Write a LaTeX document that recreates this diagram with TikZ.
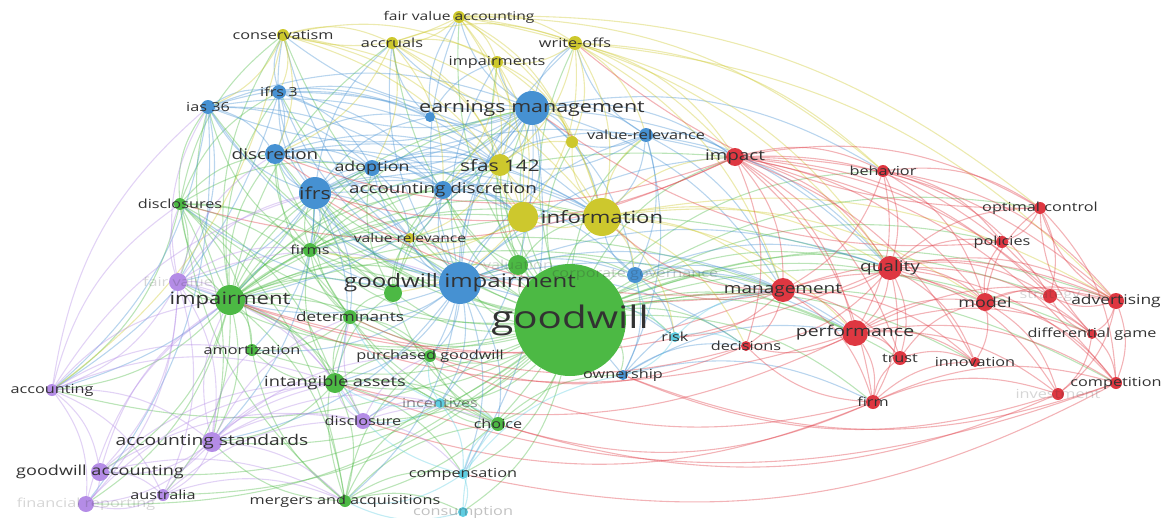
\documentclass[tikz,border=0pt]{standalone}
\usepackage{fontspec}
\setmainfont{Open Sans}
\usepackage{graphicx}
\usetikzlibrary{backgrounds}

\definecolor{cg}{RGB}{76,185,68}
\definecolor{cb}{RGB}{70,145,210}
\definecolor{cy}{RGB}{205,200,45}
\definecolor{cr}{RGB}{222,55,65}
\definecolor{cp}{RGB}{180,140,230}
\definecolor{cc}{RGB}{95,205,225}
\definecolor{lbltext}{RGB}{50,50,50}

\newcommand\widelbl[1]{\scalebox{1.3}[1]{#1}}

\tikzset{
  kw/.style={circle,inner sep=0pt,draw=none},
  link/.style={line width=1.1pt,draw opacity=0.38,bend left=20},
  ge/.style={link,draw=cg},
  be/.style={link,draw=cb},
  ye/.style={link,draw=cy},
  re/.style={link,draw=cr},
  pe/.style={link,draw=cp},
  ce/.style={link,draw=cc},
  lbl/.style={inner sep=0pt,text=lbltext}
}

\begin{document}
\begin{tikzpicture}[x=1pt,y=-1pt]
\useasboundingbox (0,0) rectangle (1169,517);

% keywords: name/x/y/radius
\foreach \n/\x/\y/\r in {goodwill/570/320/56, impairment/230/300/15, disclosures/180/204/6,
  firms/310/250/7, valuation/518/265/10, gnode/393/293/9, determinants/350/317/7,
  amortization/252/350/6, purchased/430/356/6, intangible/335/383/10, choice/498/424/7,
  mergers/345/501/6}
  \node[kw,fill=cg,minimum size=2*\r pt] (\n) at (\x,\y) {};
\foreach \n/\x/\y/\r in {earnings/532/108/17, sblue/430/117/5, valrelb/646/135/7,
  ias36/208/107/7, ifrs3/279/92/7, discretion/275/154/10, adoption/372/168/8,
  ifrs/315/193/16, accdisc/443/190/9, gwimp/460/283/21, corpgov/635/275/8,
  ownership/623/375/5}
  \node[kw,fill=cb,minimum size=2*\r pt] (\n) at (\x,\y) {};
\foreach \n/\x/\y/\r in {risk/675/337/5, incentives/440/403/5, compensation/463/474/5,
  consumption/463/512/5}
  \node[kw,fill=cc,minimum size=2*\r pt] (\n) at (\x,\y) {};
\foreach \n/\x/\y/\r in {fva/459/17/6, conservatism/283/35/6, accruals/392/43/6,
  writeoffs/575/43/7, impairments/497/62/6, sfas/500/165/11, syellow/572/142/6,
  information/602/217/19, mini/523/217/15, valrel/410/238/5}
  \node[kw,fill=cy,minimum size=2*\r pt] (\n) at (\x,\y) {};
\foreach \n/\x/\y/\r in {fairvalue/178/282/9, accounting/52/390/6, accstd/212/442/10,
  gwacc/100/472/9, australia/163/495/6, finrep/86/504/8, disclosure/363/421/8}
  \node[kw,fill=cp,minimum size=2*\r pt] (\n) at (\x,\y) {};
\foreach \n/\x/\y/\r in {impact/735/157/9, behavior/883/171/6, optimal/1040/208/6,
  policies/1002/242/6, quality/890/268/12, management/783/290/12, model/985/302/9,
  strategy/1050/296/7, advertising/1116/301/8, performance/855/333/13,
  decisions/746/346/5, trust/900/358/7, innovation/975/362/5, diffgame/1092/334/5,
  competition/1116/383/6, investment/1058/394/6, firm/873/402/7}
  \node[kw,fill=cr,minimum size=2*\r pt] (\n) at (\x,\y) {};

% links
\begin{scope}[on background layer]
\foreach \a/\bs in {
  goodwill/{impairment,disclosures,firms,determinants,amortization,purchased,intangible,choice,mergers,valuation,gnode,gwimp,ifrs,discretion,information,sfas,earnings,management,quality,performance,impact,model,advertising,decisions,ownership,risk,corpgov,accstd,disclosure,incentives,compensation,accounting,fairvalue,ias36,ifrs3,conservatism,accruals,fva,writeoffs,impairments,behavior,trust,firm,innovation,diffgame,competition,strategy,optimal,policies,valrel,valrelb,adoption,accdisc,gwacc,australia,finrep,consumption,mini,syellow},
  impairment/{disclosures,firms,determinants,amortization,intangible,fairvalue,accounting,accstd,gwacc,ias36,ifrs3,discretion,ifrs,adoption,gwimp,information,earnings,conservatism,accruals,purchased,choice,mergers,disclosure,management,quality,performance,impact,sfas,valrel,mini,finrep,australia,accdisc,gnode},
  disclosures/{firms,ias36,discretion,determinants,amortization,accounting,intangible,conservatism,ifrs3,adoption,gnode,mergers,fairvalue,accstd},
  intangible/{amortization,determinants,purchased,choice,mergers,firms,gnode,compensation,incentives,accstd},
  mergers/{choice,compensation,accstd,amortization,determinants,disclosures,incentives,purchased,consumption},
  choice/{ownership,purchased,determinants,gnode,firms,incentives},
  determinants/{firms,purchased,amortization,gnode,discretion,ifrs},
  firms/{discretion,adoption,accdisc,gnode,valrel,ifrs,ias36,earnings,information},
  valuation/{ifrs,firms,information,corpgov,accdisc,sfas,earnings},
  gnode/{ifrs,discretion,adoption,accdisc,valrel,earnings,sfas}}
  \foreach \b in \bs \draw[ge] (\a) to (\b);
\foreach \a/\bs in {
  gwimp/{ias36,ifrs3,discretion,ifrs,adoption,accdisc,earnings,sfas,information,valrel,firms,determinants,intangible,purchased,disclosure,choice,incentives,compensation,management,impact,quality,corpgov,valrelb,ownership,risk,accstd,fairvalue,amortization,disclosures,mergers,writeoffs,impairments,fva,conservatism,accruals,mini,performance,decisions},
  earnings/{fva,accruals,writeoffs,impairments,conservatism,ifrs3,ias36,discretion,ifrs,adoption,accdisc,sfas,information,mini,impact,valrelb,corpgov,management,quality,incentives,compensation,impairment,sblue,syellow,behavior,firms},
  ifrs/{ias36,ifrs3,discretion,adoption,accdisc,firms,determinants,amortization,intangible,accounting,accstd,fairvalue,conservatism,accruals,impact,information,sfas,sblue,valrel,mini},
  ias36/{ifrs3,discretion,adoption,accdisc,accounting,fairvalue,sblue,earnings,sfas,finrep},
  ifrs3/{discretion,adoption,accdisc,sblue,sfas,information,conservatism,accounting},
  discretion/{adoption,accdisc,information,sblue,sfas,valrel,mini},
  adoption/{accdisc,sfas,information,mini,valrel},
  accdisc/{sfas,information,mini,valrel,valrelb,corpgov},
  valrelb/{impact,corpgov,information,sfas,management,quality,ownership,syellow,writeoffs},
  corpgov/{ownership,management,quality,performance,risk,information},
  ownership/{management,performance,decisions,firm},
  sblue/{accruals,impairments,sfas,fva}}
  \foreach \b in \bs \draw[be] (\a) to (\b);
\foreach \a/\bs in {
  fva/{conservatism,accruals,writeoffs,impairments,sfas,information,mini,impact,behavior,syellow,optimal,quality},
  conservatism/{accruals,ifrs3,discretion,sfas,information,impairments,mini,ias36,accounting},
  accruals/{impairments,sfas,information,discretion,adoption,mini,writeoffs,accdisc},
  writeoffs/{impairments,sfas,information,mini,valrelb,impact,quality,management,behavior,syellow,advertising},
  impairments/{sfas,information,mini,syellow,accdisc},
  information/{sfas,mini,management,quality,performance,impact,valrelb,decisions,model,syellow,risk,corpgov,advertising},
  mini/{sfas,valrel,firms,gnode},
  sfas/{syellow,valrel}}
  \foreach \b in \bs \draw[ye] (\a) to (\b);
\foreach \a/\bs in {
  impact/{behavior,management,quality,performance,decisions,model,advertising,trust,firm,policies,optimal,innovation,diffgame,strategy,competition,ifrs,discretion,disclosures},
  behavior/{quality,model,policies,optimal,management,performance,advertising,strategy},
  quality/{management,performance,model,advertising,policies,trust,firm,innovation,diffgame,competition,strategy,optimal,investment,decisions,impairment},
  management/{performance,decisions,model,trust,firm,advertising,innovation,information,corpgov,risk,impairment,ifrs,discretion},
  performance/{trust,firm,model,innovation,advertising,decisions,competition,investment,diffgame,impairment,intangible},
  model/{advertising,strategy,diffgame,innovation,competition,investment,optimal,policies},
  advertising/{strategy,diffgame,competition,investment,optimal,policies},
  diffgame/{competition,investment,optimal,strategy},
  firm/{trust,innovation,competition,investment,decisions,disclosure,purchased,choice},
  optimal/{policies,strategy,competition,writeoffs},
  trust/{innovation,model},
  competition/{intangible,ownership,compensation},
  investment/{choice,ownership},
  decisions/{purchased,determinants},
  policies/{earnings}}
  \foreach \b in \bs \draw[re] (\a) to (\b);
\foreach \a/\bs in {
  fairvalue/{accounting,accstd,gwacc,impairment,ifrs,gwimp,disclosures,intangible,disclosure,ias36,finrep,australia,discretion,firms},
  accounting/{accstd,gwacc,finrep,impairment,disclosures,intangible,ifrs,australia,amortization,ias36},
  accstd/{gwacc,australia,finrep,intangible,disclosure,impairment,mergers,amortization,purchased,incentives,determinants},
  gwacc/{australia,finrep,intangible,disclosure,impairment,mergers},
  australia/{finrep,intangible,disclosure,mergers},
  disclosure/{intangible,incentives,choice,purchased,determinants,compensation},
  finrep/{intangible,impairment}}
  \foreach \b in \bs \draw[pe] (\a) to (\b);
\foreach \a/\bs in {
  incentives/{compensation,choice,intangible,purchased,determinants,disclosure},
  compensation/{consumption,choice,intangible,mergers,ownership},
  risk/{ownership,corpgov,management,decisions},
  consumption/{mergers,choice}}
  \foreach \b in \bs \draw[ce] (\a) to (\b);
\end{scope}

% labels: node/text/size/opacity
\foreach \n/\t/\fs/\o in {goodwill/goodwill/31/1, gwimp/goodwill impairment/18.5/1,
  earnings/earnings management/16.5/1, information/information/17/1,
  impairment/impairment/17/1, ifrs/ifrs/16.5/1, sfas/sfas 142/16/1,
  discretion/discretion/14.5/1, accdisc/accounting discretion/14.5/1,
  adoption/adoption/13.7/1, intangible/intangible assets/14/1,
  accstd/accounting standards/14.8/1, gwacc/goodwill accounting/13.9/1,
  management/management/14.6/1, performance/performance/15/1, quality/quality/14.6/1,
  model/model/13.8/1, advertising/advertising/13.4/1, impact/impact/14.5/1,
  determinants/determinants/13.2/1, fva/fair value accounting/12/1,
  conservatism/conservatism/12.5/1, accruals/accruals/12.5/1, writeoffs/write-offs/12.5/1,
  impairments/impairments/12.5/1, ias36/ias 36/12.5/1, ifrs3/ifrs 3/12.5/1,
  valrelb/value-relevance/12.5/1, disclosures/disclosures/12.5/1, firms/firms/12.5/1,
  valrel/value relevance/12/1, amortization/amortization/12.5/1,
  purchased/purchased goodwill/12.5/1, disclosure/disclosure/12.5/1,
  incentives/incentives/12.5/0.55, choice/choice/12.5/1, compensation/compensation/12.5/1,
  consumption/consumption/12.5/0.3, mergers/mergers and acquisitions/12.5/1,
  accounting/accounting/12.5/1, australia/australia/12.5/1,
  finrep/financial reporting/12.5/0.2, fairvalue/fair value/12.5/0.2,
  valuation/valuation/12.5/0.2, corpgov/corporate governance/12.5/0.25,
  risk/risk/12.5/1, ownership/ownership/12.5/1, decisions/decisions/12.5/1,
  behavior/behavior/12.5/1, optimal/optimal control/12.5/1, policies/policies/12.5/1,
  strategy/strategy/12.5/0.2, diffgame/differential game/12.5/1,
  innovation/innovation/12.5/1, trust/trust/12.5/1, competition/competition/12.5/1,
  investment/investment/12.5/0.2, firm/firm/12.5/1}
  \node[lbl,text opacity=\o,font=\fontsize{\fs}{\fs}\selectfont] at (\n) {\widelbl{\t}};
\end{tikzpicture}
\end{document}
